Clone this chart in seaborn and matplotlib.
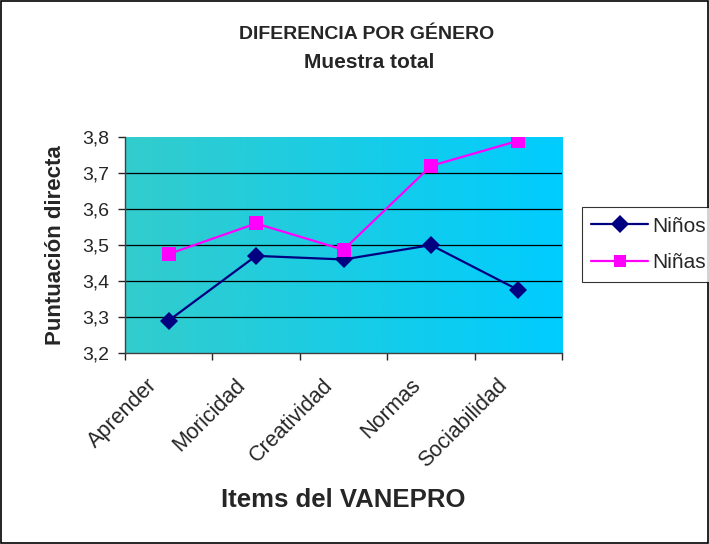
import numpy as np
import pandas as pd
import matplotlib
matplotlib.use("Agg")
import matplotlib.pyplot as plt
import seaborn as sns
from matplotlib.colors import LinearSegmentedColormap
from matplotlib.ticker import FuncFormatter, FixedLocator
from matplotlib.transforms import ScaledTranslation

# data
items = ["Aprender", "Moricidad", "Creatividad", "Normas", "Sociabilidad"]
ninos = [3.29, 3.47, 3.46, 3.50, 3.375]
ninas = [3.475, 3.56, 3.487, 3.72, 3.79]
series_names = ["Niños", "Niñas"]
series_colors = ["#000080", "#FF00FF"]
series_markers = ["D", "s"]

df = pd.DataFrame({
    "item": items * 2,
    "pos": list(range(len(items))) * 2,
    "valor": ninos + ninas,
    "grupo": [series_names[0]] * len(items) + [series_names[1]] * len(items),
})

sns.set_style("white")
plt.rcParams["font.family"] = ["Liberation Sans", "DejaVu Sans"]

fig = plt.figure(figsize=(7.09, 5.44), dpi=100)
ax = fig.add_axes([0.176, 0.351, 0.617, 0.397])

# gradient background like the Excel plot area
cmap = LinearSegmentedColormap.from_list("bg", ["#33CCCC", "#00CCFF"])
grad = np.linspace(0, 1, 256).reshape(1, -1)
ax.imshow(grad, cmap=cmap, aspect="auto", extent=[0, 1, 0, 1],
          transform=ax.transAxes, zorder=0)

for y in np.arange(3.3, 3.8, 0.1):
    ax.axhline(y, color="black", lw=0.9, zorder=1)

sns.lineplot(data=df, x="pos", y="valor", hue="grupo", style="grupo",
             palette=dict(zip(series_names, series_colors)),
             markers=dict(zip(series_names, series_markers)),
             dashes=False, markersize=9.5, markeredgewidth=0, lw=1.6,
             legend=False, ax=ax, zorder=3)

ax.set_xlim(-0.5, len(items) - 0.5)
ax.set_ylim(3.2, 3.8)
ax.set_yticks(np.arange(3.2, 3.81, 0.1))
ax.yaxis.set_major_formatter(FuncFormatter(lambda v, p: f"{v:.1f}".replace(".", ",")))
ax.set_xticks(range(len(items)))
ax.set_xticklabels(items, rotation=45, ha="right", va="center",
                   rotation_mode="anchor", fontsize=15.5)
ax.xaxis.set_minor_locator(FixedLocator(np.arange(-0.5, len(items), 1.0)))
ax.tick_params(axis="x", which="major", length=0, pad=0)
ax.tick_params(axis="x", which="minor", length=5, width=1, direction="out", bottom=True)
ax.tick_params(axis="y", length=5, width=1, direction="out", left=True, labelsize=14, pad=6)

# Excel puts the rotated labels a bit left of the category centre
shift = ScaledTranslation(-0.14, -0.29, fig.dpi_scale_trans)
for lab in ax.get_xticklabels():
    lab.set_transform(lab.get_transform() + shift)

for side in ["top", "right"]:
    ax.spines[side].set_visible(False)
for side in ["left", "bottom"]:
    ax.spines[side].set_color("#404040")
    ax.spines[side].set_linewidth(1)

ax.set_xlabel("Items del VANEPRO", fontsize=18.5, fontweight="bold", va="center")
ax.xaxis.set_label_coords(0.5, -0.68)
ax.set_ylabel("Puntuación directa", fontsize=16, fontweight="bold", va="center")
ax.yaxis.set_label_coords(-0.158, 0.5)

fig.text(0.517, 0.936, "DIFERENCIA POR GÉNERO", ha="center", va="center",
         fontsize=14, fontweight="bold")
fig.text(0.521, 0.886, "Muestra total", ha="center", va="center",
         fontsize=15, fontweight="bold")

handles = [plt.Line2D([], [], color=c, marker=m, markersize=9, lw=1.6, markeredgewidth=0)
           for c, m in zip(series_colors, series_markers)]
leg = fig.legend(handles, series_names, loc="upper left", bbox_to_anchor=(0.821, 0.619),
                 frameon=True, fancybox=False, edgecolor="black", fontsize=15,
                 handlelength=2.7, borderpad=0.45, labelspacing=0.85, handletextpad=0.2,
                 borderaxespad=0)
leg.get_frame().set_linewidth(0.8)

# outer chart border
fig.patches.append(plt.Rectangle((0.002, 0.002), 0.996, 0.996, transform=fig.transFigure,
                                 fill=False, edgecolor="black", lw=1.2))

fig.savefig("out.png", dpi=100)
